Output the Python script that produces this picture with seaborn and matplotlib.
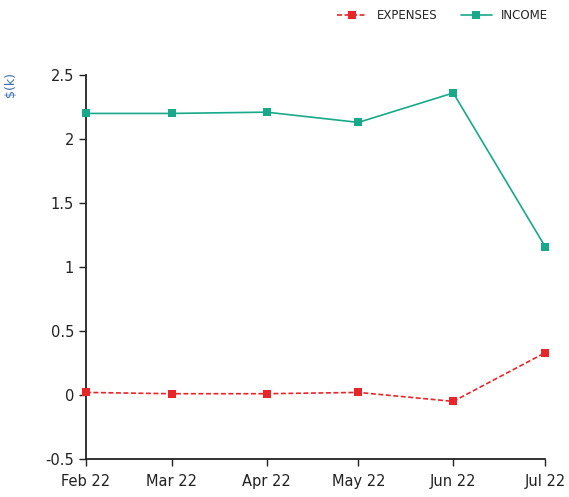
import matplotlib
matplotlib.use("Agg")
import matplotlib.pyplot as plt
import matplotlib.dates as mdates
import pandas as pd
import seaborn as sns

months = ["2022-02-01", "2022-03-01", "2022-04-01", "2022-05-01", "2022-06-01", "2022-07-01"]
expenses = [0.02, 0.01, 0.01, 0.02, -0.05, 0.33]
income = [2.20, 2.20, 2.21, 2.13, 2.36, 1.16]

dates = pd.to_datetime(months)
df = pd.DataFrame({
    "month": list(dates) * 2,
    "value": expenses + income,
    "series": ["EXPENSES"] * len(dates) + ["INCOME"] * len(dates),
})

sns.set_style("white")
plt.rcParams["font.family"] = ["DejaVu Sans"]

fig = plt.figure(figsize=(5.69, 4.97), dpi=100)
ax = fig.add_axes([0.151, 0.0765, 0.807, 0.7725])

palette = {"EXPENSES": "#e8262a", "INCOME": "#17a98a"}
sns.lineplot(data=df, x="month", y="value", hue="series", style="series",
             palette=palette, dashes={"EXPENSES": (3, 1.5), "INCOME": ""},
             markers={"EXPENSES": "s", "INCOME": "s"}, markersize=6,
             markeredgewidth=0, linewidth=1.2, ax=ax, legend=True,
             clip_on=False, zorder=3)

ax.set_xlim(dates[0], dates[-1])
ax.set_ylim(-0.5, 2.5)
ax.set_yticks([-0.5, 0, 0.5, 1, 1.5, 2, 2.5])
ax.set_yticklabels(["-0.5", "0", "0.5", "1", "1.5", "2", "2.5"])
ax.set_xticks(dates)
ax.xaxis.set_major_formatter(mdates.DateFormatter("%b %y"))

for s in ["top", "right"]:
    ax.spines[s].set_visible(False)
for s in ["left", "bottom"]:
    ax.spines[s].set_color("#222222")
    ax.spines[s].set_linewidth(1.3)
ax.tick_params(axis="both", which="major", direction="out", length=5,
               width=1, color="#222222", labelsize=10.5, labelcolor="#222222",
               bottom=True, left=True)
ax.tick_params(axis="x", pad=6)

ax.set_xlabel("")
ax.set_ylabel("")
fig.text(0.018, 0.83, "$(k)", rotation=90, color="#3a6fb0", fontsize=9,
         ha="center", va="center")

leg = ax.legend(loc="upper right", bbox_to_anchor=(1.03, 1.2), ncol=2,
                frameon=False, fontsize=8.5, handlelength=2.6,
                columnspacing=2.0, handletextpad=0.8)

fig.savefig("out.png", dpi=100)
